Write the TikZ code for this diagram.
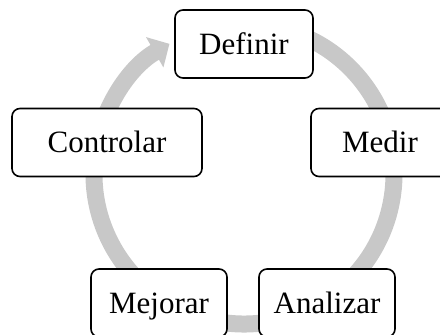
\documentclass[tikz,border=0pt]{standalone}
\usepackage{fontspec}
\setmainfont{Liberation Serif}
\usetikzlibrary{arrows.meta}
\definecolor{ringgray}{RGB}{200,200,200}
\tikzset{
  stage/.style={draw=black, line width=1.6pt, rounded corners=8pt, fill=white,
    inner sep=0pt, minimum height=68pt, text height=24pt, text depth=4pt,
    font=\fontsize{31}{37}\selectfont},
  ring/.style={draw=ringgray, line width=17pt,
    -{Triangle[width=34pt, length=17pt, fill=ringgray]}}
}
\begin{document}
\begin{tikzpicture}[x=1pt, y=1pt]
\path[use as bounding box, clip] (0,0) rectangle (440,-335);
\coordinate (c) at (244,-174);
\draw[ring] (c) ++(80:150) arc[start angle=80, end angle=-240.2, radius=150];
\node[stage, minimum width=138pt] (definir) at (244,-44) {Definir};
\node[stage, minimum width=190pt] (controlar) at (107,-142.5) {Controlar};
\node[stage, minimum width=138pt] (medir) at (380,-142.5) {Medir};
\node[stage, minimum width=136pt] (mejorar) at (159,-303) {Mejorar};
\node[stage, minimum width=136pt] (analizar) at (327,-303) {Analizar};
\end{tikzpicture}
\end{document}
